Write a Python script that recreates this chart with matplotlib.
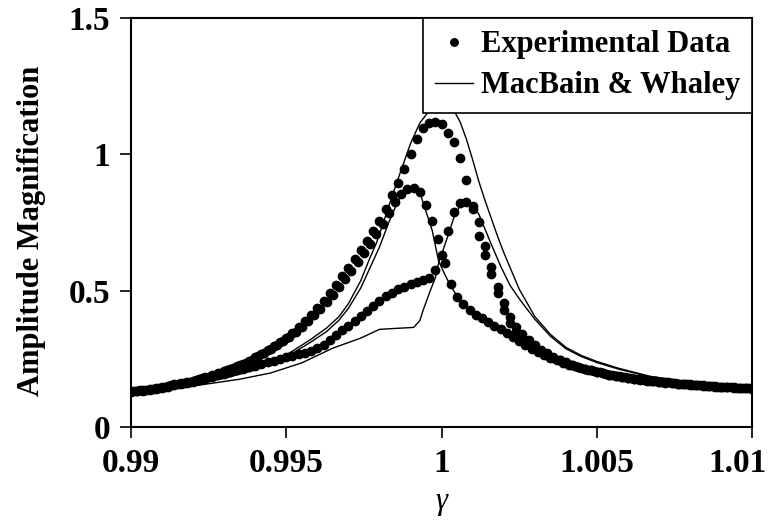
import matplotlib
matplotlib.use('Agg')
import matplotlib.pyplot as plt
import matplotlib.transforms as mtransforms

# experimental runs: sweep values (gamma) and amplitude magnification
gamma_ac = [0.9900, 0.9902, 0.9904, 0.9906, 0.9908, 0.9910, 0.9912, 0.9914, 0.9916, 0.9918,
            0.9920, 0.9922, 0.9924, 0.9926, 0.9928, 0.9930, 0.9932, 0.9934, 0.9936, 0.9938,
            0.9940, 0.9942, 0.9944, 0.9946, 0.9948, 0.9950, 0.9952, 0.9954, 0.9956, 0.9958,
            0.9960, 0.9962, 0.9964, 0.9966, 0.9968, 0.9970, 0.9972, 0.9974, 0.9976, 0.9978,
            0.9980, 0.9982, 0.9984, 0.9986, 0.9988, 0.9990, 0.9992, 0.9994, 0.9996, 0.9998,
            1.0000, 1.0002, 1.0004, 1.0006, 1.0008, 1.0010, 1.0012, 1.0014, 1.0016, 1.0018,
            1.0020, 1.0022, 1.0024, 1.0026, 1.0028, 1.0030, 1.0032, 1.0034, 1.0036, 1.0038,
            1.0040, 1.0042, 1.0044, 1.0046, 1.0048, 1.0050, 1.0052, 1.0054, 1.0056, 1.0058,
            1.0060, 1.0062, 1.0064, 1.0066, 1.0068, 1.0070, 1.0072, 1.0074, 1.0076, 1.0078,
            1.0080, 1.0082, 1.0084, 1.0086, 1.0088, 1.0090, 1.0092, 1.0094, 1.0096, 1.0098,
            1.0100]

gamma_b = [0.9901, 0.9903, 0.9905, 0.9907, 0.9909, 0.9911, 0.9913, 0.9915, 0.9917, 0.9919,
           0.9921, 0.9923, 0.9925, 0.9927, 0.9929, 0.9931, 0.9933, 0.9935, 0.9937, 0.9939,
           0.9941, 0.9943, 0.9945, 0.9947, 0.9949, 0.9951, 0.9953, 0.9955, 0.9957, 0.9959,
           0.9961, 0.9963, 0.9965, 0.9967, 0.9969, 0.9971, 0.9973, 0.9975, 0.9977, 0.9979,
           0.9981, 0.9983, 0.9985, 0.9987, 0.9989, 0.9991, 0.9993, 0.9995, 0.9997, 0.9999,
           1.0001, 1.0003, 1.0005, 1.0007, 1.0009, 1.0011, 1.0013, 1.0015, 1.0017, 1.0019,
           1.0021, 1.0023, 1.0025, 1.0027, 1.0029, 1.0031, 1.0033, 1.0035, 1.0037, 1.0039,
           1.0041, 1.0043, 1.0045, 1.0047, 1.0049, 1.0051, 1.0053, 1.0055, 1.0057, 1.0059,
           1.0061, 1.0063, 1.0065, 1.0067, 1.0069, 1.0071, 1.0073, 1.0075, 1.0077, 1.0079,
           1.0081, 1.0083, 1.0085, 1.0087, 1.0089, 1.0091, 1.0093, 1.0095, 1.0097, 1.0099]

# single peak run
exp_a = [0.130, 0.133, 0.136, 0.139, 0.143, 0.147, 0.151, 0.156, 0.160, 0.165,
         0.170, 0.176, 0.182, 0.189, 0.196, 0.204, 0.212, 0.222, 0.232, 0.243,
         0.255, 0.268, 0.282, 0.297, 0.312, 0.328, 0.346, 0.366, 0.388, 0.412,
         0.437, 0.463, 0.492, 0.522, 0.552, 0.583, 0.615, 0.648, 0.682, 0.718,
         0.755, 0.800, 0.850, 0.895, 0.945, 1.000, 1.055, 1.095, 1.115, 1.120,
         1.110, 1.080, 1.045, 0.985, 0.905, 0.800, 0.700, 0.630, 0.560, 0.490,
         0.430, 0.380, 0.350, 0.325, 0.305, 0.290, 0.277, 0.265, 0.254, 0.244,
         0.235, 0.227, 0.220, 0.213, 0.207, 0.201, 0.196, 0.192, 0.188, 0.184,
         0.180, 0.177, 0.174, 0.171, 0.168, 0.166, 0.164, 0.161, 0.159, 0.157,
         0.156, 0.154, 0.152, 0.151, 0.149, 0.148, 0.146, 0.145, 0.143, 0.142,
         0.141]

# run with the peak below resonance
exp_b = [0.131, 0.134, 0.137, 0.140, 0.144, 0.148, 0.152, 0.157, 0.161, 0.166,
         0.172, 0.178, 0.184, 0.191, 0.199, 0.207, 0.216, 0.226, 0.236, 0.247,
         0.259, 0.272, 0.286, 0.300, 0.315, 0.331, 0.349, 0.368, 0.388, 0.410,
         0.433, 0.458, 0.484, 0.512, 0.542, 0.572, 0.604, 0.637, 0.672, 0.708,
         0.745, 0.785, 0.825, 0.855, 0.872, 0.878, 0.862, 0.815, 0.755, 0.690,
         0.600, 0.525, 0.478, 0.450, 0.428, 0.410, 0.398, 0.385, 0.372, 0.360,
         0.345, 0.330, 0.315, 0.300, 0.286, 0.274, 0.263, 0.253, 0.244, 0.236,
         0.229, 0.222, 0.216, 0.210, 0.205, 0.200, 0.195, 0.191, 0.187, 0.183,
         0.180, 0.176, 0.173, 0.170, 0.168, 0.165, 0.163, 0.161, 0.158, 0.156,
         0.154, 0.153, 0.151, 0.149, 0.148, 0.146, 0.145, 0.143, 0.142, 0.141]

# run with the peak above resonance
exp_c = [0.127, 0.130, 0.133, 0.136, 0.140, 0.144, 0.148, 0.152, 0.156, 0.161,
         0.166, 0.171, 0.177, 0.183, 0.189, 0.195, 0.201, 0.207, 0.213, 0.219,
         0.225, 0.231, 0.237, 0.243, 0.249, 0.255, 0.261, 0.267, 0.273, 0.280,
         0.289, 0.300, 0.318, 0.337, 0.355, 0.372, 0.390, 0.407, 0.425, 0.445,
         0.462, 0.480, 0.493, 0.505, 0.515, 0.524, 0.532, 0.540, 0.548, 0.575,
         0.630, 0.720, 0.790, 0.820, 0.826, 0.810, 0.750, 0.665, 0.585, 0.515,
         0.455, 0.405, 0.365, 0.340, 0.318, 0.300, 0.284, 0.270, 0.258, 0.247,
         0.237, 0.228, 0.220, 0.213, 0.207, 0.201, 0.196, 0.191, 0.187, 0.183,
         0.179, 0.176, 0.173, 0.170, 0.167, 0.165, 0.162, 0.160, 0.158, 0.156,
         0.154, 0.153, 0.151, 0.149, 0.148, 0.146, 0.145, 0.144, 0.142, 0.141,
         0.140]

# MacBain & Whaley predictions
mw1_x = [0.9900, 0.9920, 0.9930, 0.9940, 0.9946, 0.9952, 0.9958, 0.9963, 0.9967, 0.9970,
         0.9974, 0.9977, 0.9979, 0.9981, 0.9983, 0.9986, 0.9988, 0.9990, 0.9993, 0.9996,
         1.0000, 1.0004, 1.0006, 1.0008, 1.0010, 1.0012, 1.0014, 1.0016, 1.0018, 1.0020,
         1.0025, 1.0030, 1.0035, 1.0040, 1.0045, 1.0050, 1.0057, 1.0067, 1.0080, 1.0090,
         1.0100]
mw1_y = [0.130, 0.158, 0.180, 0.212, 0.240, 0.278, 0.322, 0.363, 0.405, 0.452,
         0.537, 0.622, 0.674, 0.740, 0.810, 0.910, 0.975, 1.040, 1.115, 1.160,
         1.180, 1.160, 1.118, 1.055, 0.980, 0.900, 0.830, 0.765, 0.700, 0.640,
         0.505, 0.405, 0.340, 0.292, 0.262, 0.240, 0.215, 0.186, 0.164, 0.152,
         0.142]

mw2_x = [0.9900, 0.9920, 0.9930, 0.9940, 0.9946, 0.9952, 0.9958, 0.9963, 0.9967, 0.9970,
         0.9974, 0.9977, 0.9980, 0.9983, 0.9986, 0.9988, 0.9990, 0.9991, 0.9993, 0.9995,
         0.9997, 0.9999, 1.0001, 1.0003, 1.0006, 1.0009, 1.0012, 1.0016, 1.0020, 1.0025,
         1.0030, 1.0035, 1.0040, 1.0045, 1.0050, 1.0060, 1.0070, 1.0080, 1.0090, 1.0100]
mw2_y = [0.130, 0.157, 0.178, 0.209, 0.236, 0.270, 0.312, 0.350, 0.392, 0.435,
         0.510, 0.585, 0.660, 0.750, 0.830, 0.865, 0.880, 0.882, 0.860, 0.790,
         0.720, 0.610, 0.560, 0.515, 0.463, 0.428, 0.400, 0.372, 0.350, 0.320,
         0.290, 0.262, 0.240, 0.224, 0.212, 0.192, 0.175, 0.161, 0.150, 0.141]

mw3_x = [0.9900, 0.9920, 0.9935, 0.9945, 0.9955, 0.9965, 0.9974, 0.9980, 0.9986, 0.9991,
         0.9993, 0.9994, 0.9996, 0.9998, 0.9999, 1.0002, 1.0004, 1.0006, 1.0008, 1.0010,
         1.0012, 1.0014, 1.0016, 1.0019, 1.0022, 1.0025, 1.0030, 1.0035, 1.0040, 1.0045,
         1.0050, 1.0057, 1.0067, 1.0080, 1.0090, 1.0100]
mw3_y = [0.128, 0.150, 0.175, 0.198, 0.235, 0.289, 0.326, 0.358, 0.362, 0.365,
         0.390, 0.426, 0.489, 0.548, 0.600, 0.700, 0.770, 0.812, 0.828, 0.815,
         0.780, 0.725, 0.670, 0.590, 0.520, 0.470, 0.395, 0.333, 0.287, 0.258,
         0.236, 0.212, 0.184, 0.163, 0.151, 0.141]

xticks = [0.99, 0.995, 1.0, 1.005, 1.01]
xtick_labels = ['0.99', '0.995', '1', '1.005', '1.01']
yticks = [0, 0.5, 1, 1.5]
ytick_labels = ['0', '0.5', '1', '1.5']

plt.rcParams['font.family'] = ['Liberation Serif', 'DejaVu Serif']
plt.rcParams['font.weight'] = 'bold'

fig = plt.figure(figsize=(7.7, 5.31), dpi=100)
ax = fig.add_axes([0.170, 0.196, 0.807, 0.770])

ms = 6
ax.plot(gamma_ac, exp_a, 'o', color='black', markersize=ms, label='Experimental Data')
ax.plot(gamma_b, exp_b, 'o', color='black', markersize=ms)
ax.plot(gamma_ac, exp_c, 'o', color='black', markersize=ms)
ax.plot(mw1_x, mw1_y, '-', color='black', linewidth=1.0, label='MacBain & Whaley')
ax.plot(mw2_x, mw2_y, '-', color='black', linewidth=1.0)
ax.plot(mw3_x, mw3_y, '-', color='black', linewidth=1.0)

ax.set_xlim(0.99, 1.01)
ax.set_ylim(0, 1.5)
ax.set_xticks(xticks)
ax.set_xticklabels(xtick_labels)
ax.set_yticks(yticks)
ax.set_yticklabels(ytick_labels)
ax.tick_params(direction='out', length=8, width=1.2, labelsize=24, pad=7)
for s in ax.spines.values():
    s.set_linewidth(1.5)

# last x label sits a little left so it stays inside the picture
lab = ax.get_xticklabels()[-1]
lab.set_transform(lab.get_transform() +
                  mtransforms.ScaledTranslation(-15 / 100, 0, fig.dpi_scale_trans))

ax.set_ylabel('Amplitude Magnification', fontsize=22, fontweight='bold')
ax.yaxis.set_label_coords(-0.137, 0.48)
ax.set_xlabel('γ', fontsize=22, fontstyle='italic', fontweight='normal', labelpad=6)

leg = ax.legend(loc='upper right', fontsize=22, frameon=True, fancybox=False,
                edgecolor='black', framealpha=1, borderaxespad=0, handlelength=1.25,
                handletextpad=0.25, borderpad=0.4, labelspacing=0.4, markerscale=0.9)
leg.get_frame().set_linewidth(1.2)

fig.savefig('out.png', dpi=100)
